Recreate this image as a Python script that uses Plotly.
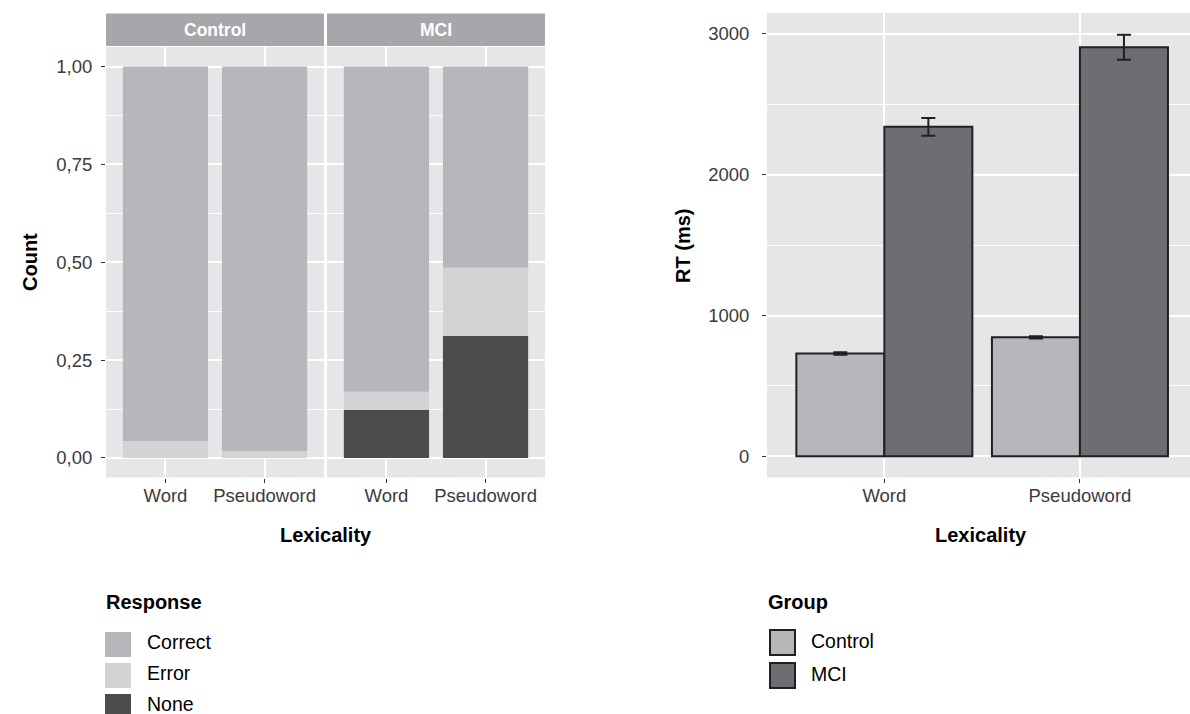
import plotly.graph_objects as go

# ---------------- data ----------------
lexicality = ["Word", "Pseudoword"]
responses = ["Correct", "Error", "None"]

# proportions per facet (Control / MCI), per lexicality
control_none = [0.0, 0.0]
control_error = [0.043, 0.018]
control_correct = [0.957, 0.982]
mci_none = [0.123, 0.312]
mci_error = [0.046, 0.174]
mci_correct = [0.831, 0.514]

count_ticks = [0.0, 0.25, 0.5, 0.75, 1.0]
count_ticktext = ["0,00", "0,25", "0,50", "0,75", "1,00"]

groups = ["Control", "MCI"]
rt_control = [730, 845]
rt_control_err = [9, 8]
rt_mci = [2340, 2905]
rt_mci_err = [63, 89]
rt_ticks = [0, 1000, 2000, 3000]

# ---------------- style ----------------
W, H = 1190, 714
FONT = "Liberation Sans, Arial, sans-serif"
PANEL = "#e5e6e8"
STRIP = "#a6a7aa"
C_CORRECT = "#b6b7ba"
C_ERROR = "#d2d3d5"
C_NONE = "#4b4c4e"
C_CTRL = "#b6b7ba"
C_MCI = "#6d6e71"
EDGE = "#231f20"
TICKC = "#3b3b3b"


def px(x):
    return x / W


def py(y):
    return 1 - y / H


fig = go.Figure()

resp_colors = {"Correct": C_CORRECT, "Error": C_ERROR, "None": C_NONE}


def add_stack(none, err, corr, xa, ya):
    base_none = [0.0 for _ in none]
    base_err = [n for n in none]
    base_corr = [n + e for n, e in zip(none, err)]
    for name, vals, base in [("None", none, base_none), ("Error", err, base_err),
                             ("Correct", corr, base_corr)]:
        fig.add_trace(go.Bar(
            x=lexicality, y=vals, base=base, width=0.86,
            marker=dict(color=resp_colors[name], line=dict(width=0)),
            xaxis=xa, yaxis=ya, showlegend=False, name=name,
        ))


add_stack(control_none, control_error, control_correct, "x", "y")
add_stack(mci_none, mci_error, mci_correct, "x2", "y2")

for name, vals, errs, col, off in [("Control", rt_control, rt_control_err, C_CTRL, -0.45),
                                    ("MCI", rt_mci, rt_mci_err, C_MCI, 0.0)]:
    fig.add_trace(go.Bar(
        x=lexicality, y=vals, offset=off, width=0.45, name=name,
        marker=dict(color=col, line=dict(color=EDGE, width=2)),
        error_y=dict(type="data", array=errs, thickness=2, width=7, color=EDGE),
        xaxis="x3", yaxis="y3", showlegend=False,
    ))

tickfont = dict(family=FONT, size=18.5, color=TICKC)
grid = dict(showgrid=True, gridcolor="white", gridwidth=1.6, zeroline=False,
            showline=False, ticks="outside", ticklen=4, tickwidth=1, tickcolor="#333333",
            tickfont=tickfont)

xcat = dict(type="category", categoryorder="array", categoryarray=lexicality,
            ticklabelstandoff=-3, **grid)

fig.update_layout(
    width=W, height=H, margin=dict(l=0, r=0, t=0, b=0),
    paper_bgcolor="white", plot_bgcolor=PANEL, barmode="overlay",
    font=dict(family=FONT, color="black"),
    xaxis=dict(domain=[px(106), px(324)], anchor="y", range=[-0.6, 1.6], **xcat),
    xaxis2=dict(domain=[px(327), px(545)], anchor="y2", range=[-0.6, 1.6], **xcat),
    xaxis3=dict(domain=[px(767), 1.0], anchor="y3", range=[-0.6, 1.5627], **xcat),
    yaxis=dict(domain=[py(477.5), py(47)], anchor="x", range=[-0.05, 1.05],
               tickmode="array", tickvals=count_ticks, ticktext=count_ticktext,
               minor=dict(tickvals=[0.125, 0.375, 0.625, 0.875], showgrid=True,
                          gridcolor="white", gridwidth=0.8, ticks=""),
               ticklabelstandoff=5, **grid),
    yaxis2=dict(domain=[py(477.5), py(47)], anchor="x2", range=[-0.05, 1.05],
                matches="y", showticklabels=False,
                tickmode="array", tickvals=count_ticks,
                minor=dict(tickvals=[0.125, 0.375, 0.625, 0.875], showgrid=True,
                           gridcolor="white", gridwidth=0.8, ticks=""),
                **{**grid, "ticks": ""}),
    yaxis3=dict(domain=[py(477.5), py(13)], anchor="x3", range=[-150, 3148],
                tickmode="array", tickvals=rt_ticks, ticktext=[str(t) for t in rt_ticks],
                minor=dict(tickvals=[500, 1500, 2500], showgrid=True,
                           gridcolor="white", gridwidth=0.8, ticks=""),
                ticklabelstandoff=9, **grid),
)

shapes = []
annotations = []


def ann(text, x, y, font, xanchor="center", angle=0):
    annotations.append(dict(text=text, x=px(x), y=py(y), xref="paper", yref="paper",
                            showarrow=False, xanchor=xanchor, yanchor="middle",
                            textangle=angle, font=font))


# facet strips
for (x0, x1), lab in zip([(106, 324), (327, 545)], groups):
    shapes.append(dict(type="rect", xref="paper", yref="paper", x0=px(x0), x1=px(x1),
                       y0=py(46), y1=py(13.5), fillcolor=STRIP, line=dict(width=0),
                       layer="above"))
    ann("<b>%s</b>" % lab, (x0 + x1) / 2, 30, dict(family=FONT, size=17.5, color="white"))

titlefont = dict(family=FONT, size=20, color="black")
for text, x, y, ang in [("Count", 30, 262, -90), ("Lexicality", 326, 535, 0),
                        ("RT (ms)", 683, 246, -90), ("Lexicality", 981, 535, 0)]:
    ann("<b>%s</b>" % text, x, y, titlefont, angle=ang)

# legends
legfont = dict(family=FONT, size=19.5, color="black")
ann("<b>Response</b>", 104, 602, titlefont, xanchor="left")
for i, r in enumerate(responses):
    cy = 644.5 + 31 * i
    shapes.append(dict(type="rect", xref="paper", yref="paper", x0=px(105), x1=px(131),
                       y0=py(cy + 12.5), y1=py(cy - 12.5), fillcolor=resp_colors[r],
                       line=dict(width=0)))
    ann(r, 145, cy - 3, legfont, xanchor="left")

ann("<b>Group</b>", 766, 602, titlefont, xanchor="left")
for i, (g, col) in enumerate(zip(groups, [C_CTRL, C_MCI])):
    cy = 642.5 + 33 * i
    shapes.append(dict(type="rect", xref="paper", yref="paper", x0=px(770), x1=px(795),
                       y0=py(cy + 12.5), y1=py(cy - 12.5), fillcolor=col,
                       line=dict(width=2, color=EDGE)))
    ann(g, 809, cy - 2, legfont, xanchor="left")

fig.update_layout(shapes=shapes, annotations=annotations)
fig.write_html("out.html", config={"displayModeBar": False},
               post_script="document.body.style.margin='0px';")
